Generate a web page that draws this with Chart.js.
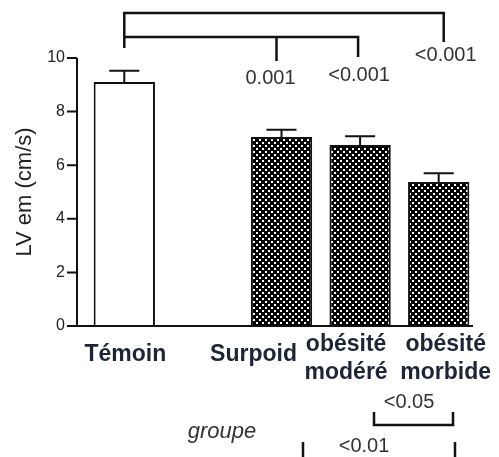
<!DOCTYPE html>
<html><head><meta charset="utf-8">
<script src="https://cdn.jsdelivr.net/npm/chart.js@4/dist/chart.umd.min.js"></script>
<style>html,body{margin:0;padding:0;background:#fff}#w{width:499px;height:457px}</style>
</head><body><div id="w"><canvas id="c" width="499" height="457"></canvas></div>
<script>
const categories = ['Témoin', '', 'Surpoid', 'obésité modéré', 'obésité morbide'];
const tickLabels = [['Témoin'], [], ['Surpoid'], ['obésité', 'modéré'], ['obésité', 'morbide']];
const means = [9.1, null, 7.05, 6.75, 5.37];
const sem = [0.42, null, 0.27, 0.33, 0.33];
const yTicks = [0, 2, 4, 6, 8, 10];
const topPValues = ['0.001', '<0.001', '<0.001'];
const bottomPValues = ['<0.05', '<0.01'];

function makePattern() {
  const p = document.createElement('canvas');
  p.width = 6; p.height = 6;
  const g = p.getContext('2d');
  g.fillStyle = '#000'; g.fillRect(0, 0, 6, 6);
  g.fillStyle = '#fff';
  g.fillRect(1, 1, 2, 2);
  g.fillRect(4, 4, 2, 2);
  return g.createPattern(p, 'repeat');
}
const ctx0 = document.getElementById('c').getContext('2d');
const pat = makePattern();

const FONT = '"Liberation Sans", Arial, sans-serif';

const overlay = {
  id: 'overlay',
  afterDatasetsDraw(chart) {
    const ctx = chart.ctx;
    const x = chart.scales.x, y = chart.scales.y;
    const axX = chart.chartArea.left - 8;
    const y0 = y.getPixelForValue(0);
    ctx.save();
    ctx.strokeStyle = '#111';
    ctx.lineWidth = 2;
    // error bars
    means.forEach((m, i) => {
      if (m == null) return;
      const cx = x.getPixelForValue(i);
      const yt = y.getPixelForValue(m);
      const ye = y.getPixelForValue(m + sem[i]);
      ctx.beginPath();
      ctx.moveTo(cx, yt); ctx.lineTo(cx, ye);
      ctx.moveTo(cx - 15, ye); ctx.lineTo(cx + 15, ye);
      ctx.stroke();
    });
    // axes
    ctx.beginPath();
    ctx.moveTo(axX, y.getPixelForValue(10)); ctx.lineTo(axX, y0);
    ctx.moveTo(axX, y0); ctx.lineTo(chart.chartArea.right - 5, y0);
    yTicks.forEach(t => {
      const py = y.getPixelForValue(t);
      ctx.moveTo(axX - 10, py); ctx.lineTo(axX, py);
    });
    ctx.stroke();

    // x labels
    ctx.fillStyle = '#1c2438';
    ctx.font = 'bold 23px ' + FONT;
    ctx.textAlign = 'center';
    ctx.textBaseline = 'middle';
    const lblOff = [1, 0, -28, -14, 7];
    tickLabels.forEach((lines, i) => {
      if (!lines.length) return;
      const cx = x.getPixelForValue(i) + lblOff[i];
      if (lines.length === 1) {
        ctx.fillText(lines[0], cx, y0 + 29);
      } else {
        ctx.fillText(lines[0], cx, y0 + 19);
        ctx.fillText(lines[1], cx, y0 + 47);
      }
    });
    ctx.font = 'italic 22px ' + FONT;
    ctx.fillStyle = '#333';
    ctx.fillText('groupe', 222, 432);

    // top brackets
    const c0 = x.getPixelForValue(0), c2 = x.getPixelForValue(2), c3 = x.getPixelForValue(3), c4 = x.getPixelForValue(4);
    ctx.strokeStyle = '#111';
    ctx.lineWidth = 2.5;
    ctx.beginPath();
    ctx.moveTo(c0, 48); ctx.lineTo(c0, 13); ctx.lineTo(c4 + 5, 13); ctx.lineTo(c4 + 5, 42);
    ctx.moveTo(c0, 37); ctx.lineTo(c3 - 2, 37); ctx.lineTo(c3 - 2, 57);
    ctx.moveTo(c2 - 5, 37); ctx.lineTo(c2 - 5, 61);
    ctx.stroke();
    ctx.font = '20px ' + FONT;
    ctx.fillStyle = '#333';
    ctx.fillText(topPValues[0], c2 - 11, 78);
    ctx.fillText(topPValues[1], c3 - 1, 75);
    ctx.fillText(topPValues[2], c4 + 7, 55);

    // bottom brackets
    ctx.fillText(bottomPValues[0], 409, 402);
    ctx.fillText(bottomPValues[1], 364, 446);
    ctx.lineWidth = 2.5;
    ctx.beginPath();
    ctx.moveTo(374, 412); ctx.lineTo(374, 425); ctx.lineTo(453, 425); ctx.lineTo(453, 412);
    ctx.moveTo(303, 442); ctx.lineTo(303, 458);
    ctx.moveTo(455, 442); ctx.lineTo(455, 458);
    ctx.stroke();
    ctx.restore();
  }
};

new Chart(ctx0, {
  type: 'bar',
  data: {
    labels: categories,
    datasets: [{
      data: means,
      backgroundColor: ['#fff', '#fff', pat, pat, pat],
      borderColor: '#111',
      borderWidth: 2,
      borderSkipped: 'bottom',
      categoryPercentage: 1,
      barPercentage: 0.78
    }]
  },
  options: {
    responsive: false,
    animation: false,
    devicePixelRatio: 1,
    plugins: { legend: { display: false }, tooltip: { enabled: false } },
    layout: { padding: { top: 58, bottom: 123, right: 21, left: 0 } },
    scales: {
      x: {
        grid: { display: false },
        border: { display: false },
        ticks: { display: false }
      },
      y: {
        min: 0, max: 10,
        afterFit(s) { s.width = 85; },
        afterBuildTicks(s) { s.ticks = yTicks.map(v => ({ value: v })); },
        grid: { display: false, drawTicks: false },
        border: { display: false },
        ticks: { padding: 20, color: '#222', font: { family: FONT, size: 16 } },
        title: { display: true, text: 'LV em (cm/s)', color: '#222', font: { family: FONT, size: 22 }, padding: { top: 12 } }
      }
    }
  },
  plugins: [overlay]
});
</script>
</body></html>
